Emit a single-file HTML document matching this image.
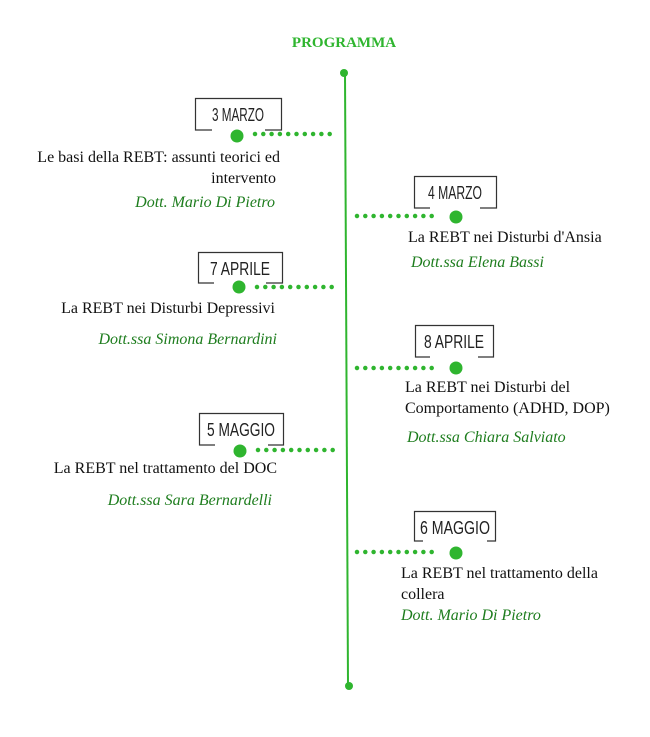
<!DOCTYPE html>
<html><head><meta charset="utf-8"><style>
html,body{margin:0;padding:0;background:#fff;width:650px;height:737px;overflow:hidden}
svg text{font-family:"Liberation Serif",serif;font-size:16px;fill:#111}
svg text.d{font-family:"Liberation Sans Narrow","Liberation Sans",sans-serif;font-size:18px;fill:#222}
.doc{font-style:italic;fill:#1e7d1e}
</style></head><body>
<svg width="650" height="737" xmlns="http://www.w3.org/2000/svg">
<text x="344" y="47" text-anchor="middle" style="font-weight:bold;fill:#2fb52f;font-size:15px">PROGRAMMA</text>
<line x1="345" y1="73" x2="348" y2="686" stroke="#2fb52f" stroke-width="2"/>
<circle cx="344" cy="73" r="4" fill="#2fb52f"/>
<circle cx="349" cy="686" r="4" fill="#2fb52f"/>
<g stroke="#2fb52f" stroke-width="4.5" stroke-linecap="round" stroke-dasharray="0 8.3">
<line x1="255" y1="134" x2="336" y2="134"/>
<line x1="357" y1="216" x2="438" y2="216"/>
<line x1="257" y1="287" x2="338" y2="287"/>
<line x1="357" y1="368" x2="438" y2="368"/>
<line x1="258" y1="450" x2="339" y2="450"/>
<line x1="357" y1="552" x2="438" y2="552"/>
</g>
<g fill="#2fb52f">
<circle cx="237" cy="136" r="6.5"/>
<circle cx="456" cy="217" r="6.5"/>
<circle cx="239" cy="287" r="6.5"/>
<circle cx="456" cy="368" r="6.5"/>
<circle cx="240" cy="451" r="6.5"/>
<circle cx="456" cy="553" r="6.5"/>
</g>
<g fill="none" stroke="#333" stroke-width="1.2">
<path d="M212,130 H195.5 V98.5 H281.5 V130 H265"/>
<path d="M430,208 H414.5 V176.5 H496.5 V208 H480"/>
<path d="M214,283 H198.5 V252.5 H282.5 V283 H266"/>
<path d="M430,357 H415.5 V325.5 H493.5 V357 H478"/>
<path d="M215,445 H199.5 V413.5 H283.5 V445 H268"/>
<path d="M423,541 H414.5 V511.5 H495.5 V541 H487"/>
</g>
<text class="d" x="212" y="121" textLength="52" lengthAdjust="spacingAndGlyphs">3 MARZO</text>
<text class="d" x="428" y="199" textLength="54" lengthAdjust="spacingAndGlyphs">4 MARZO</text>
<text class="d" x="210" y="275" textLength="60" lengthAdjust="spacingAndGlyphs">7 APRILE</text>
<text class="d" x="424" y="348" textLength="60" lengthAdjust="spacingAndGlyphs">8 APRILE</text>
<text class="d" x="207" y="436" textLength="68" lengthAdjust="spacingAndGlyphs">5 MAGGIO</text>
<text class="d" x="420" y="534" textLength="70" lengthAdjust="spacingAndGlyphs">6 MAGGIO</text>
<g text-anchor="end">
<text x="280" y="162">Le basi della REBT: assunti teorici ed</text>
<text x="276" y="183">intervento</text>
<text class="doc" x="275" y="207">Dott. Mario Di Pietro</text>
<text x="275" y="313">La REBT nei Disturbi Depressivi</text>
<text class="doc" x="277" y="344">Dott.ssa Simona Bernardini</text>
<text x="277" y="473">La REBT nel trattamento del DOC</text>
<text class="doc" x="272" y="505">Dott.ssa Sara Bernardelli</text>
</g>
<text x="408" y="242">La REBT nei Disturbi d'Ansia</text>
<text class="doc" x="411" y="267">Dott.ssa Elena Bassi</text>
<text x="405" y="392">La REBT nei Disturbi del</text>
<text x="405" y="413">Comportamento (ADHD, DOP)</text>
<text class="doc" x="407" y="442">Dott.ssa Chiara Salviato</text>
<text x="401" y="578">La REBT nel trattamento della</text>
<text x="401" y="599">collera</text>
<text class="doc" x="401" y="620">Dott. Mario Di Pietro</text>
</svg>
</body></html>
